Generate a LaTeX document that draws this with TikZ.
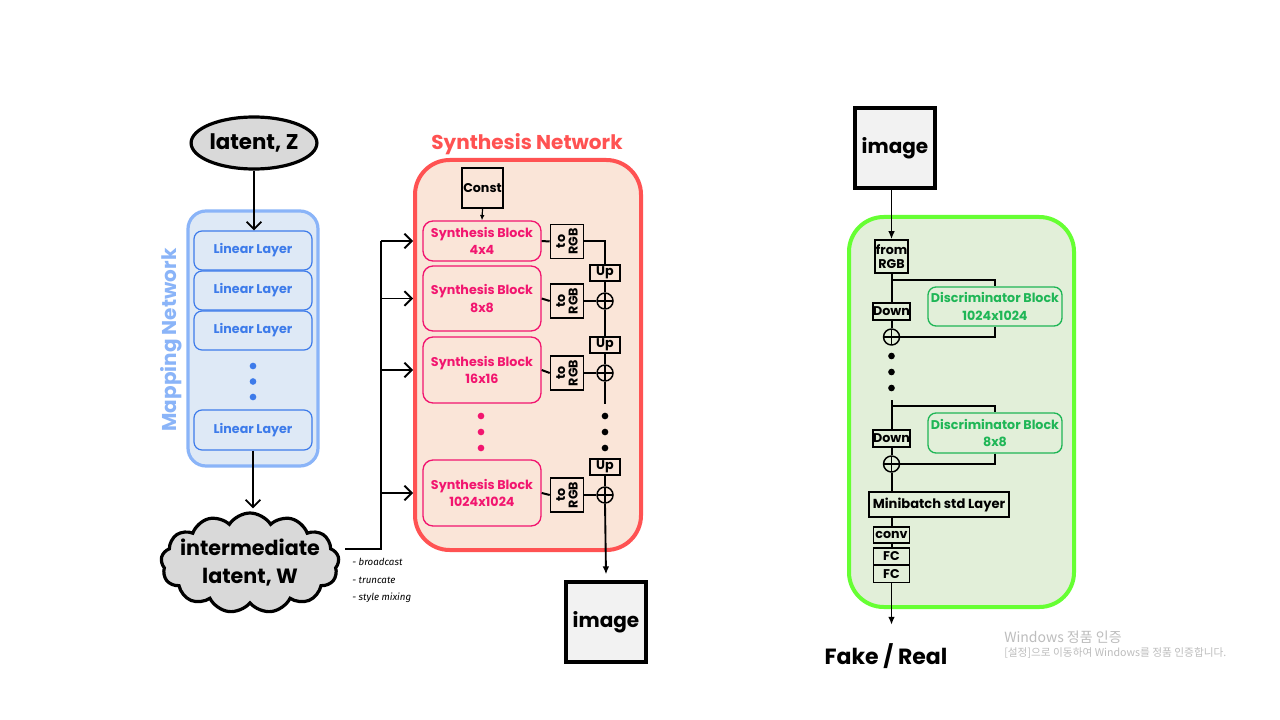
\documentclass[tikz,border=0pt]{standalone}
\usepackage{fontspec}
\setmainfont{Poppins}
\newfontfamily\krfont{Noto Sans CJK KR}
\newfontfamily\notefont{Fira Sans}
\usetikzlibrary{shapes.geometric,shapes.symbols,arrows.meta,calc}
\definecolor{mapborder}{HTML}{8AB4F8}
\definecolor{mapfill}{HTML}{DEE9F6}
\definecolor{linblue}{HTML}{3D7BEA}
\definecolor{synred}{HTML}{FF5252}
\definecolor{synfill}{HTML}{FAE5D8}
\definecolor{sbpink}{HTML}{F2156F}
\definecolor{disgreen}{HTML}{66FF33}
\definecolor{disfill}{HTML}{E2EFD9}
\definecolor{dbgreen}{HTML}{1FB656}
\definecolor{cloudgray}{HTML}{D9D9D9}
\definecolor{imgfill}{HTML}{F2F2F2}
\definecolor{wmgray}{HTML}{BDBDBD}
\newcommand{\fsz}[1]{\fontsize{#1pt}{\dimexpr #1pt*6/5\relax}\selectfont}
\newcommand{\fszl}[1]{\fontsize{#1pt}{\dimexpr #1pt*7/5\relax}\selectfont}
\tikzset{
  line/.style={line width=1.5pt},
  barb/.style={line width=1.4pt,-{Straight Barb[length=5.5pt,width=11pt]}},
  tip/.style={line width=1.4pt,-{Latex[length=6pt,width=5pt]}},
  linbox/.style={draw=linblue,line width=0.9pt,fill=mapfill,rounded corners=6pt,text=linblue,font=\bfseries\fsz{9.5},minimum width=88.5pt,minimum height=29.25pt,inner sep=0pt},
  sbbox/.style={draw=sbpink,line width=1pt,rounded corners=7.5pt,text=sbpink,font=\bfseries\fszl{9.5},align=center,minimum width=88.5pt,inner sep=0pt},
  dbbox/.style={draw=dbgreen,line width=1pt,rounded corners=6pt,text=dbgreen,font=\bfseries\fszl{9.5},align=center,minimum width=100.5pt,inner sep=0pt},
  smallbox/.style={draw,line width=1.2pt,font=\bfseries\fsz{9.5},align=center,inner sep=0pt},
  rgbbox/.style={smallbox,minimum width=25.5pt,minimum height=24.75pt,rotate=90,font=\bfseries\fontsize{9.5pt}{9.5pt}\selectfont},
  upbox/.style={smallbox,minimum width=22.5pt,minimum height=12pt},
  downbox/.style={smallbox,minimum width=27pt,minimum height=12.75pt},
  oplus/.style={circle,draw,line width=1.1pt,minimum size=12pt,inner sep=0pt,
    path picture={\draw[line width=1.1pt] (path picture bounding box.north) -- (path picture bounding box.south) (path picture bounding box.west) -- (path picture bounding box.east);}},
  imgbox/.style={draw,line width=2.4pt,fill=imgfill,minimum size=60pt,inner sep=0pt,font=\bfseries\fsz{15}},
  bdot/.style={circle,fill=black,minimum size=5pt,inner sep=0pt},
  pdot/.style={circle,fill=sbpink,minimum size=5pt,inner sep=0pt},
  ldot/.style={circle,fill=linblue,minimum size=5pt,inner sep=0pt},
  note/.style={font=\notefont\itshape\fsz{7.3},anchor=west,inner sep=0pt},
}
\begin{document}
\begin{tikzpicture}[x=0.75pt,y=-0.75pt]
\useasboundingbox[fill=white] (0,0) rectangle (1280,720);

% ---------- Mapping network ----------
\node[ellipse,draw,line width=2.4pt,fill=cloudgray,minimum width=90pt,minimum height=39pt,inner sep=0pt,font=\bfseries\fsz{16}] (z) at (254,143) {latent, Z};
\node[draw=mapborder,line width=2.4pt,fill=mapfill,rounded corners=13.5pt,minimum width=97.5pt,minimum height=191.25pt] (map) at (253,338.5) {};
\node[rotate=90,text=mapborder,font=\bfseries\fsz{15}] (maplbl) at (171,340) {Mapping Network};
\node[linbox] (lin1) at (253,250.5) {Linear Layer};
\node[linbox] (lin2) at (253,290.5) {Linear Layer};
\node[linbox] (lin3) at (253,330.5) {Linear Layer};
\node[linbox,minimum height=30pt] (lin4) at (253,430) {Linear Layer};
\node[ldot] (ld1) at (253,366) {};
\node[ldot] (ld2) at (253,381.5) {};
\node[ldot] (ld3) at (253,397) {};

\node[cloud,cloud puffs=13,cloud puff arc=115,cloud ignores aspect,draw,line width=2.4pt,fill=cloudgray,minimum width=133.5pt,minimum height=75pt,inner sep=0pt] (w) at (250,563) {};
\node[align=center,inner sep=0pt,font=\bfseries\fontsize{15.5pt}{21pt}\selectfont] (wtext) at (w.center) {intermediate\\latent, W};

\draw[barb] (z.south) -- (z.south |- lin1.north);
\draw[barb] (lin4.south) -- ($(lin4.south |- w.north)+(0,-3)$);

\coordinate (wout) at (345,549);
\coordinate (bus) at (381,549);
\node[note] (n1) at (352,562) {- broadcast};
\node[note] (n2) at (352,580) {- truncate};
\node[note] (n3) at (352,598) {- style mixing};

% ---------- Synthesis network ----------
\node[text=synred,font=\bfseries\fsz{15}] (syntitle) at (527,144) {Synthesis Network};
\node[draw=synred,line width=3pt,fill=synfill,rounded corners=26pt,minimum width=169.5pt,minimum height=292.5pt] (syn) at (528,355) {};
\node[smallbox,minimum width=30.75pt,minimum height=30pt,font=\bfseries\fsz{9.5}] (const) at (482.5,188) {Const};
\node[sbbox,minimum height=30pt] (sb1) at (482,241) {Synthesis Block\\4x4};
\node[sbbox,minimum height=48.75pt] (sb2) at (482,298.5) {Synthesis Block\\8x8};
\node[sbbox,minimum height=49.5pt] (sb3) at (482,370) {Synthesis Block\\16x16};
\node[sbbox,minimum height=49.5pt] (sb4) at (482,493) {Synthesis Block\\1024x1024};
\node[pdot] (pd1) at (481,416) {};
\node[pdot] (pd2) at (481,432) {};
\node[pdot] (pd3) at (481,448) {};

\node[rgbbox] (rgb1) at (567,241.5) {to\\RGB};
\node[rgbbox] (rgb2) at (567,301) {to\\RGB};
\node[rgbbox] (rgb3) at (567,373) {to\\RGB};
\node[rgbbox] (rgb4) at (567,495) {to\\RGB};
\node[upbox] (up1) at (605,273) {Up};
\node[upbox] (up2) at (605,345) {Up};
\node[upbox] (up3) at (605,467) {Up};
\node[oplus] (c1) at (605,301) {};
\node[oplus] (c2) at (605,373) {};
\node[oplus] (c3) at (605,495) {};
\node[bdot] (bd1) at (605,416) {};
\node[bdot] (bd2) at (605,432) {};
\node[bdot] (bd3) at (605,448) {};
\coordinate (c2end) at (605,404);
\node[imgbox] (img1) at (606,622) {image};

\draw[line width=0.9pt,-{Latex[length=4pt,width=3.5pt]}] (const.south) -- (sb1.north);
\draw[line] (sb1.east) -- (rgb1.north);
\draw[line] (sb2.east) -- (rgb2.north);
\draw[line] (sb3.east) -- (rgb3.north);
\draw[line] (sb4.east) -- (rgb4.north);
\draw[line] (rgb1.south) -| (up1.north);
\draw[line] (up1.south) -- (c1.north);
\draw[line] (rgb2.south) -- (c1.west);
\draw[line] (c1.south) -- (up2.north);
\draw[line] (up2.south) -- (c2.north);
\draw[line] (rgb3.south) -- (c2.west);
\draw[line] (c2.south) -- (c2end);
\draw[line] (up3.south) -- (c3.north);
\draw[line] (rgb4.south) -- (c3.west);
\draw[tip] (c3.south) -- ($(img1.north)+(0,-6)$);

% broadcast connectors
\draw[line] (wout) -- (bus) -- (bus |- sb1);
\draw[barb] (bus |- sb1) -- (syn.west |- sb1);
\draw[barb] (bus |- sb2) -- (syn.west |- sb2);
\draw[barb] (bus |- sb3) -- (syn.west |- sb3);
\draw[barb] (bus |- sb4) -- (syn.west |- sb4);

% ---------- Discriminator ----------
\node[imgbox] (img2) at (895,148) {image};
\node[draw=disgreen,line width=3pt,fill=disfill,rounded corners=26pt,minimum width=168.75pt,minimum height=292.5pt] (dis) at (961.5,412) {};
\node[smallbox,minimum width=24.75pt,minimum height=24.75pt,font=\bfseries\fontsize{9.5pt}{10.5pt}\selectfont] (frgb) at (891.5,256.5) {from\\RGB};
\node[downbox] (down1) at (891.5,311.5) {Down};
\node[dbbox,minimum height=29.25pt] (db1) at (995,306.5) {Discriminator Block\\1024x1024};
\node[oplus] (d1) at (891.5,337) {};
\node[bdot] (dd1) at (891.5,356) {};
\node[bdot] (dd2) at (891.5,372) {};
\node[bdot] (dd3) at (891.5,388) {};
\coordinate (d2start) at (891.5,400);
\node[downbox] (down2) at (891.5,438.5) {Down};
\node[dbbox,minimum height=30pt] (db2) at (995,433) {Discriminator Block\\8x8};
\node[oplus] (d2) at (891.5,464) {};
\node[smallbox,minimum width=105pt,minimum height=18.75pt,font=\bfseries\fsz{9.8}] (mb) at (939,504.5) {Minibatch std Layer};
\node[smallbox,minimum width=27pt,minimum height=12pt] (conv) at (891.5,535) {conv};
\node[smallbox,minimum width=27pt,minimum height=13pt] (fc1) at (891.5,556.5) {FC};
\node[smallbox,minimum width=27pt,minimum height=13pt] (fc2) at (891.5,574) {FC};
\node[font=\bfseries\fsz{16.5}] (fr) at (886,656) {Fake / Real};

\draw[tip] (img2.south -| frgb.north) -- (frgb.north);
\draw[line] (frgb.south) -- (down1.north);
\draw[line] (891.5,280) -- (995,280) -- (db1.north);
\draw[line] (down1.south) -- (d1.north);
\draw[line] (db1.south) -- (db1.south |- d1.east) -- (d1.east);
\draw[line] (d2start) -- (down2.north);
\draw[line] (891.5,406) -- (995,406) -- (db2.north);
\draw[line] (down2.south) -- (d2.north);
\draw[line] (db2.south) -- (db2.south |- d2.east) -- (d2.east);
\draw[line] (d2.south) -- (d2.south |- mb.north);
\draw[line] (conv.north |- mb.south) -- (conv.north);
\draw[line] (conv.south) -- (fc1.north);
\draw[tip] (fc2.south) -- ($(fc2.south |- fr.north)+(0,-14)$);

% ---------- watermark ----------
\node[anchor=west,inner sep=0pt,text=wmgray,font=\krfont\fsz{10.5}] (wm1) at (1004,637) {Windows 정품 인증};
\node[anchor=west,inner sep=0pt,text=wmgray,font=\krfont\fsz{8}] (wm2) at (1004,653) {[설정]으로 이동하여 Windows를 정품 인증합니다.};
\end{tikzpicture}
\end{document}
